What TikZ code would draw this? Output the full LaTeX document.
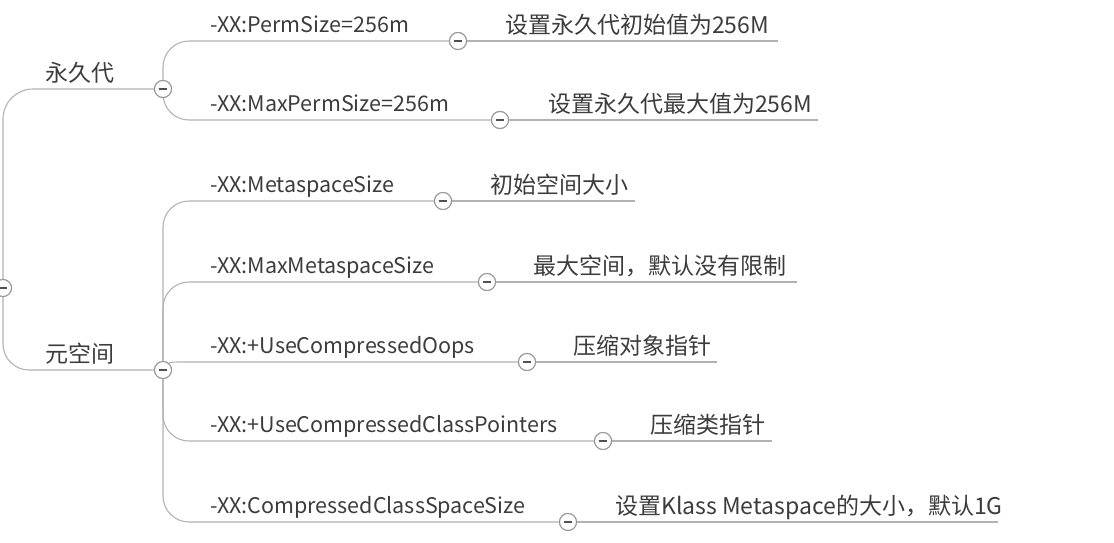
\documentclass[tikz,border=0pt]{standalone}
\usepackage{fontspec}
\setmainfont{Noto Sans CJK SC}
\definecolor{linegray}{RGB}{178,178,178}
\definecolor{circgray}{RGB}{150,150,150}
\definecolor{minusgray}{RGB}{80,80,80}
\definecolor{txtgray}{RGB}{60,60,60}
\begin{document}
\begin{tikzpicture}[x=1pt,y=-1pt,
  line/.style={draw=linegray, line width=1.1pt, rounded corners=26pt},
  tog/.style={circle, draw=circgray, fill=white, line width=1pt, minimum size=17pt, inner sep=0pt,
    path picture={\draw[minusgray,line width=1.2pt] ([xshift=-4pt]path picture bounding box.center) -- ([xshift=4pt]path picture bounding box.center);}},
  lbl/.style={anchor=base west, inner sep=0pt, text=txtgray, font=\fontsize{21.5}{26}\selectfont},
  leaf/.style={lbl, font=\fontsize{23}{27}\selectfont}]
\useasboundingbox (0,0) rectangle (1114,542);
% toggles
\node[tog] (r0) at (3,288) {};
\node[tog] (c1) at (163,89) {};
\node[tog] (c2) at (163,370) {};
\node[tog] (t1) at (458,41) {};
\node[tog] (t2) at (500,120) {};
\node[tog] (t3) at (443,201) {};
\node[tog] (t4) at (487,282) {};
\node[tog] (t5) at (527,362) {};
\node[tog] (t6) at (603,441) {};
\node[tog] (t7) at (568,522) {};
% underline ends
\coordinate (e1) at (778,41);
\coordinate (e2) at (818,120);
\coordinate (e3) at (635,201);
\coordinate (e4) at (797,282);
\coordinate (e5) at (717,362);
\coordinate (e6) at (772,441);
\coordinate (e7) at (998,522);
% connectors
\draw[line, rounded corners=30pt] (r0.north) |- (c1.west);
\draw[line, rounded corners=26pt] (r0.south) |- (c2.west);
\draw[line] (c1.north) |- (t1.west);
\draw[line] (c1.south) |- (t2.west);
\draw[line] (c2.north) |- (t3.west);
\draw[line] (c2.north) |- (t4.west);
\draw[line, rounded corners=0pt] (c2.50) .. controls (171,362) .. (190,362) -- (t5.west);
\draw[line] (c2.south) |- (t6.west);
\draw[line] (c2.south) |- (t7.west);
\draw[line] (t1.east) -- (e1);
\draw[line] (t2.east) -- (e2);
\draw[line] (t3.east) -- (e3);
\draw[line] (t4.east) -- (e4);
\draw[line] (t5.east) -- (e5);
\draw[line] (t6.east) -- (e6);
\draw[line] (t7.east) -- (e7);
% redraw toggles on top of the connectors
\foreach \n in {r0,c1,c2,t1,t2,t3,t4,t5,t6,t7} {\node[tog] at (\n) {};}
% labels
\node[leaf] (l1) at (45,81) {永久代};
\node[leaf] (l2) at (45,362) {元空间};
\node[lbl] (a1) at (210,32) {-XX:PermSize=256m};
\node[lbl] (a2) at (210,111) {-XX:MaxPermSize=256m};
\node[lbl] (b1) at (210,192) {-XX:MetaspaceSize};
\node[lbl] (b2) at (210,273) {-XX:MaxMetaspaceSize};
\node[lbl] (b3) at (210,353) {-XX:+UseCompressedOops};
\node[lbl] (b4) at (210,432) {-XX:+UseCompressedClassPointers};
\node[lbl] (b5) at (210,513) {-XX:CompressedClassSpaceSize};
\node[leaf] (f1) at (505,33) {设置永久代初始值为256M};
\node[leaf] (f2) at (548,112) {设置永久代最大值为256M};
\node[leaf] (f3) at (490,193) {初始空间大小};
\node[leaf] (f4) at (533,274) {最大空间，默认没有限制};
\node[leaf] (f5) at (573,354) {压缩对象指针};
\node[leaf] (f6) at (650,433) {压缩类指针};
\node[leaf] (f7) at (615,514) {设置Klass Metaspace的大小，默认1G};
\end{tikzpicture}
\end{document}
